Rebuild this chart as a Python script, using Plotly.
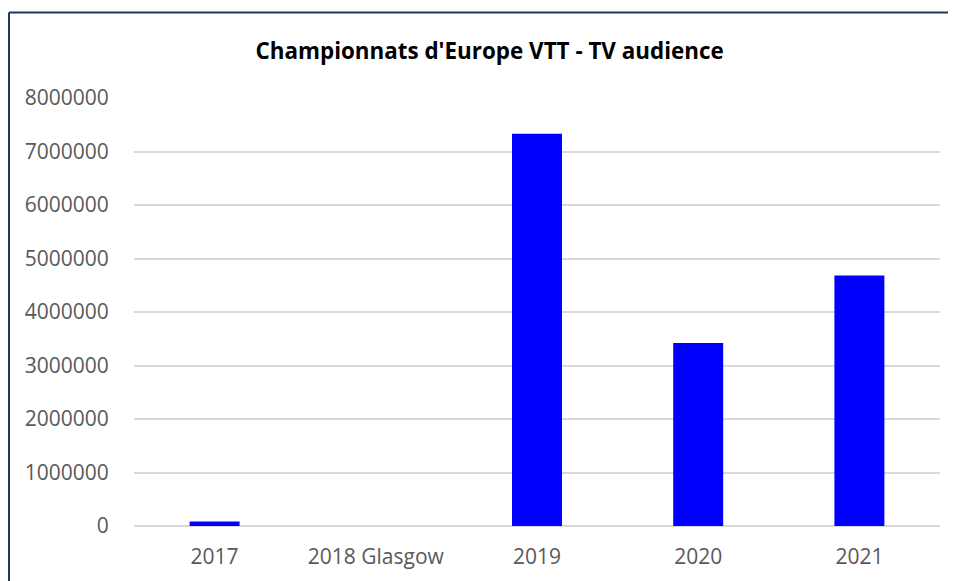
import plotly.graph_objects as go

# ------------------------------------------------------------
# Data
# ------------------------------------------------------------
categories = ["2017", "2018 Glasgow", "2019", "2020", "2021"]
audience = [85000, 0, 7330000, 3420000, 4680000]
y_ticks = [0, 1000000, 2000000, 3000000, 4000000, 5000000, 6000000, 7000000, 8000000]

TITLE = "Championnats d'Europe VTT - TV audience"
BAR_BLUE = "#0000FF"
GRID = "#d9d9d9"
TEXT_GREY = "#595959"
FRAME = "#1f3864"
FONT = "Open Sans"

# ------------------------------------------------------------
# Figure
# ------------------------------------------------------------
fig = go.Figure()
fig.add_trace(go.Bar(x=categories, y=audience, marker=dict(color=BAR_BLUE, line=dict(width=0))))

fig.update_xaxes(
    type="category",
    showline=False,
    showgrid=False,
    ticks="outside",
    ticklen=12,
    tickcolor="rgba(0,0,0,0)",
    tickfont=dict(family=FONT, size=21, color=TEXT_GREY),
)
fig.update_yaxes(
    range=[0, 8000000],
    tickvals=y_ticks,
    ticktext=[str(v) for v in y_ticks],
    showgrid=True,
    gridcolor=GRID,
    gridwidth=1.5,
    zeroline=True,
    zerolinecolor=GRID,
    zerolinewidth=1.5,
    showline=False,
    ticks="outside",
    ticklen=20,
    tickcolor="rgba(0,0,0,0)",
    tickfont=dict(family=FONT, size=21, color=TEXT_GREY),
)

# outer frame (only top and left edges are visible in the crop)
fig.add_shape(type="line", xref="paper", yref="paper",
              x0=-0.1551, x1=-0.1551, y0=-0.3, y1=1.1995,
              line=dict(color=FRAME, width=2))
fig.add_shape(type="line", xref="paper", yref="paper",
              x0=-0.1551, x1=1.1, y0=1.1995, y1=1.1995,
              line=dict(color=FRAME, width=2))

# page body has an 8px margin, so the figure is sized to the visible area
fig.update_layout(
    width=948,
    height=573,
    template="none",
    showlegend=False,
    bargap=0.69,
    plot_bgcolor="white",
    paper_bgcolor="white",
    margin=dict(l=126, r=16, t=90, b=55),
    title=dict(
        text="<b>" + TITLE + "</b>",
        x=0.508,
        xanchor="center",
        y=(573 - 43) / 573,
        yanchor="middle",
        font=dict(family=FONT, size=22.4, color="black"),
    ),
)

fig.write_html("out.html")
